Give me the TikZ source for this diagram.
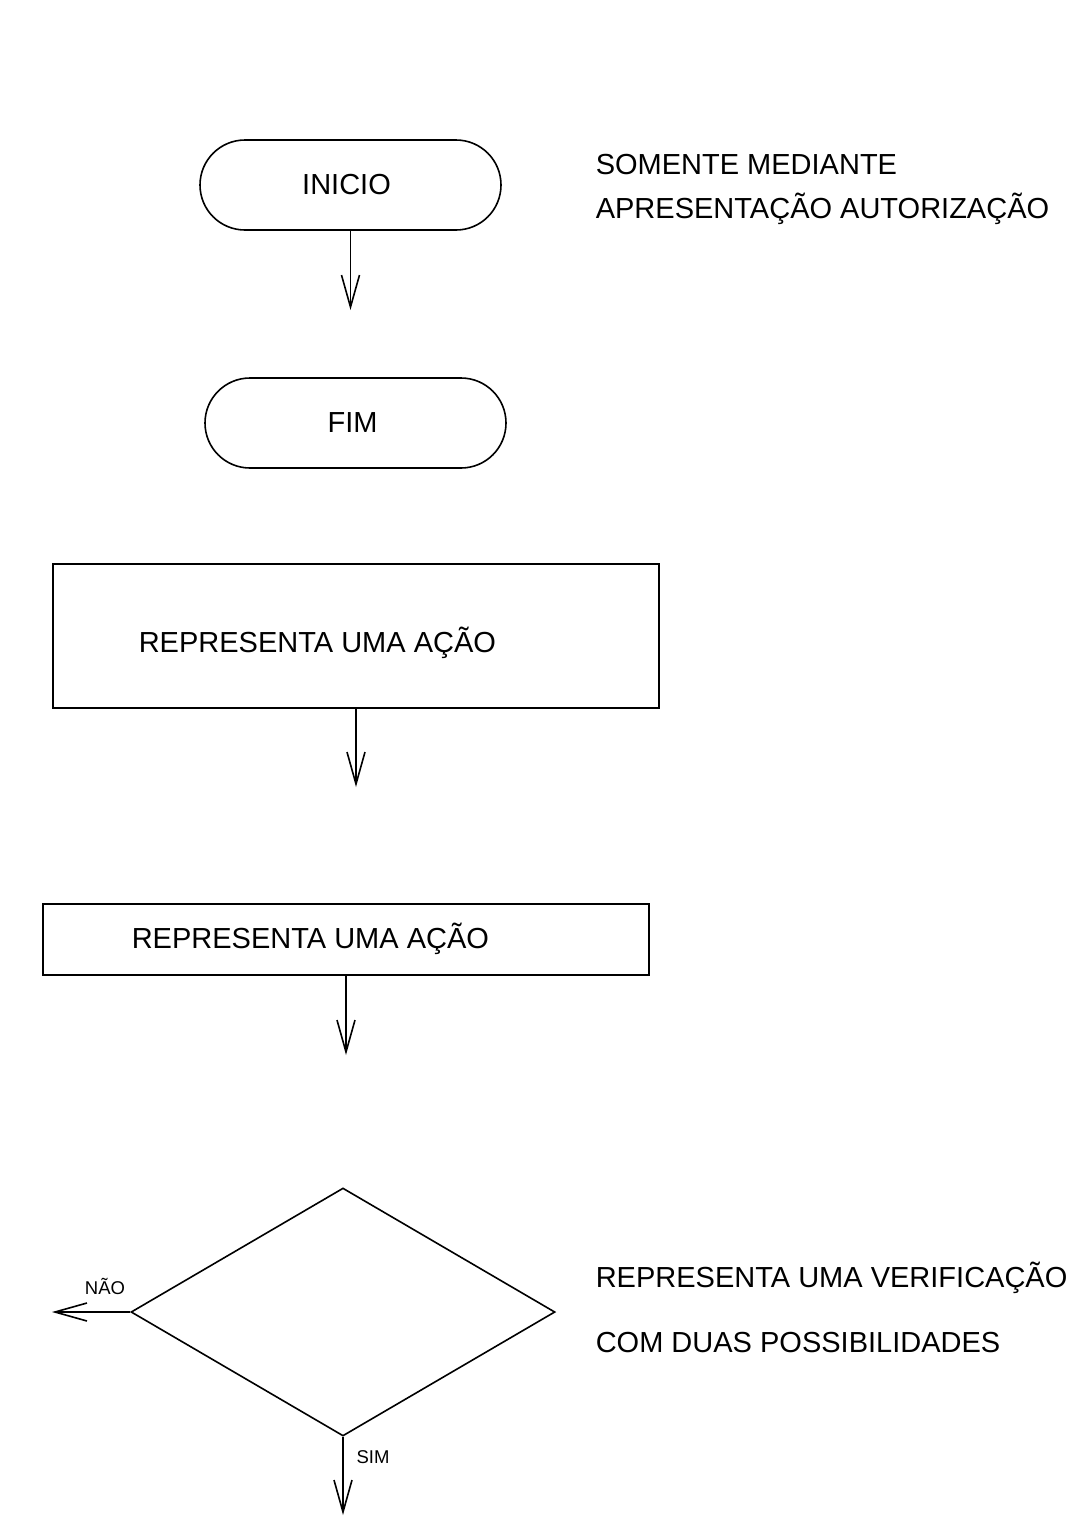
\documentclass[tikz,border=0pt]{standalone}
\usepackage{fontspec}
\setmainfont{Liberation Sans}
\usetikzlibrary{arrows.meta,shapes.geometric}
\begin{document}
\begin{tikzpicture}[x=1pt,y=-1pt,
  line width=1.6pt,
  term/.style={draw, rectangle, rounded corners=45pt, minimum width=301pt, minimum height=90pt, inner sep=0pt, font=\fontsize{29}{34}\selectfont},
  actbox/.style={draw, rectangle, inner sep=0pt},
  decis/.style={draw, diamond, inner sep=0pt, minimum width=424pt, minimum height=248pt},
  txt/.style={anchor=base west, inner sep=0pt, font=\fontsize{29}{34}\selectfont},
  small/.style={anchor=base, inner sep=0pt, font=\fontsize{18.5}{22}\selectfont},
  arr/.style={-{Straight Barb[length=32pt,width=18pt]}}]
\useasboundingbox (0,0) rectangle (1079,1527);
% terminals
\node[term, text width=301pt, align=center, xshift=0pt] (inicio) at (350.5,185) {\hspace*{-8pt}INICIO};
\node[term, text width=301pt, align=center] (fim) at (355.5,423) {\hspace*{-6pt}FIM};
\coordinate (e1) at (350.5,310);
\draw[arr] (inicio.south) -- (e1);
% notes
\node[txt] (n1) at (595,174) {SOMENTE MEDIANTE};
\node[txt] (n2) at (595,218) {APRESENTAÇÃO AUTORIZAÇÃO};
% action box 1
\node[actbox, minimum width=606pt, minimum height=144pt] (a1) at (356,636) {};
\node[txt] (a1t) at (138,652) {REPRESENTA UMA AÇÃO};
\coordinate (e2) at (356,787);
\draw[arr] (a1.south) -- (e2);
% action box 2
\node[actbox, minimum width=606pt, minimum height=71pt] (a2) at (346,939.5) {};
\node[txt] (a2t) at (131,948) {REPRESENTA UMA AÇÃO};
\coordinate (e3) at (346,1055);
\draw[arr] (a2.south) -- (e3);
% decision
\node[decis] (d) at (343,1312) {};
\coordinate (eno) at (52,1312);
\coordinate (eyes) at (343,1515);
\draw[arr] (d.west) -- (eno);
\draw[arr] (d.south) -- (eyes);
\node[small] (lno) at (105,1294) {NÃO};
\node[small] (lyes) at (373,1463) {SIM};
\node[txt] (n3) at (595,1287) {REPRESENTA UMA VERIFICAÇÃO};
\node[txt] (n4) at (595,1352) {COM DUAS POSSIBILIDADES};
\end{tikzpicture}
\end{document}
